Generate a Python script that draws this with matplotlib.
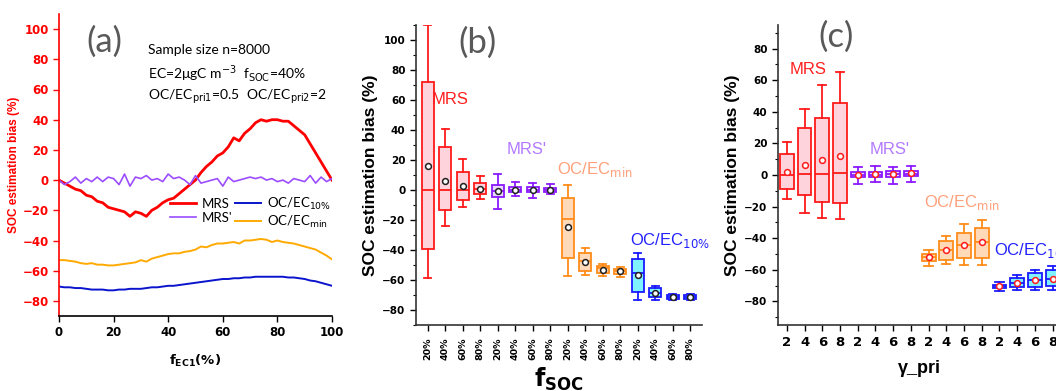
import matplotlib
matplotlib.use("Agg")
import matplotlib.pyplot as plt
import numpy as np

# ---------------- data ----------------
# panel (a)
f_ec1 = list(range(0, 101, 2))
mrs = [0, -2, -4, -6, -7, -10, -11, -14, -15, -18, -19, -20, -21, -24, -21, -22, -24, -20, -18, -15,
       -13, -12, -9, -6, -3, 0, 5, 9, 12, 16, 18, 22, 28, 26, 31, 34, 38, 40, 39, 40,
       40, 39, 39, 36, 33, 30, 24, 18, 12, 6, 0]
mrs_p = [0, -3, -1, 2, -2, 1, -1, 2, -1, 2, 1, -3, 4, -4, 2, 1, 3, 0, 1, -1,
         4, 1, 2, 0, -3, 3, -2, -1, 0, 1, -4, 2, -1, 0, 1, 2, 1, 2, 0, 1,
         -1, 0, -2, 1, 0, -1, 3, -2, 2, -1, 1]
oc_ec_min = [-53, -53, -53.5, -54, -55, -55.5, -55, -56, -56, -56.5, -56.5, -56, -55.5, -55, -54.5, -53, -54,
             -52, -51, -50, -49, -48.5, -48.5, -47.5, -47, -46, -44, -44.5, -43, -42, -42, -41.5, -41, -42,
             -40, -40, -39.5, -39, -39.5, -41, -40, -41, -41.5, -42, -43, -44, -45, -46, -48, -50, -52.5]
oc_ec_10 = [-70.5, -71, -71, -71.5, -71.5, -72, -72.5, -72.5, -72.5, -73, -73, -72.5, -72.5, -72, -72, -72,
            -71.5, -71, -71, -70.5, -70, -70, -69.5, -69, -68.5, -68, -67.5, -67, -66.5, -66, -65.5, -65.5,
            -65, -65, -64.5, -64.5, -64, -64, -64, -64, -64, -64, -64.5, -64.5, -65, -65.5, -66.5, -67, -68,
            -69, -70]

# panel (b): f_SOC boxes (MRS, MRS', OC/EC_min, OC/EC_10%) x (20,40,60,80 %)
b_ticklabels = ['20%', '40%', '60%', '80%'] * 4
b_whishi = [110, 41, 21, 9.5, 10.5, 5.5, 5, 4, 3.5, -38.5, -49, -51.5, -42, -64, -69, -69.5]
b_q3 = [72, 29, 12, 5, 3.3, 2, 1.8, 1.5, -5.3, -42, -50.5, -52.8, -46, -65.5, -69.8, -70.3]
b_med = [0, 0, 0, 1, -0.5, 0, 0, 0, -19.5, -47.5, -52.3, -54, -55, -68.5, -71, -71.3]
b_q1 = [-39.5, -13, -6.8, -2.7, -4.8, -1.6, -1.6, -1.1, -45, -54, -55.2, -55.7, -67.8, -71, -72.4, -72.6]
b_whislo = [-58.5, -24, -11, -6, -12.5, -4, -5, -2.8, -57.3, -56.8, -57.1, -57.8, -73, -73, -73.2, -73.2]
b_mean = [16, 6, 3, 1, -0.5, 0, 0, 0, -24.5, -47.8, -53, -54.2, -56.7, -68.5, -71, -71.5]

# panel (c): gamma_pri boxes
c_ticklabels = ['2', '4', '6', '8'] * 4
c_whishi = [21, 41.5, 56.8, 65.3, 5.3, 5.9, 4.8, 5.9, -47.8, -38.5, -31, -28.8, -68, -63.6, -60.2, -57.5]
c_q3 = [13, 29.5, 36.4, 45.5, 1.7, 1.9, 2.3, 2.5, -49.9, -41.7, -36.8, -33.3, -69.5, -65.3, -62.1, -60]
c_med = [0, 0.4, 0.6, 1, 0, 0.2, 0.6, 0.8, -52, -47.8, -44.6, -42.5, -70.5, -68.4, -66.3, -65.7]
c_q1 = [-9.1, -12.6, -16.8, -17.9, -1.5, -1.5, -1.3, -0.8, -54.5, -53.7, -52.6, -52.6, -71.6, -71, -71, -70.5]
c_whislo = [-15.2, -23.8, -27, -28, -5.9, -4.4, -5.5, -4.4, -57.5, -56.4, -56.8, -56.8, -73.3, -72.6, -72.6, -72.6]
c_mean = [1.7, 6.3, 9.5, 12.2, 0, 0.4, 0.6, 1, -52.2, -47.8, -44.6, -42.5, -70.5, -68.4, -66.7, -65.7]

group_edge = ['#FF1A1A', '#8C1AFF', '#FF8C1A', '#1A1AFF']
group_fill = ['#FFD3DC', '#E9D9FF', '#FFD9B8', '#80F2FF']

# ---------------- figure ----------------
W, H = 1056, 391
fig = plt.figure(figsize=(W / 100, H / 100), dpi=100)


def fr(l, t, r, b):
    return [l / W, 1 - b / H, (r - l) / W, (b - t) / H]


def ax_pt(px, py, l, t, r, b):
    return ((px - l) / (r - l), (b - py) / (b - t))


# ---------- panel (a) ----------
A = (59, 14, 332, 316)
axa = fig.add_axes(fr(*A))
axa.plot(f_ec1, mrs, color='#FF0000', lw=2.0, label='MRS')
axa.plot(f_ec1, mrs_p, color='#9B4DFF', lw=1.2, label="MRS'")
axa.plot(f_ec1, oc_ec_10, color='#0A14CC', lw=1.4, label='OC/EC$_{\\rm 10\\%}$')
axa.plot(f_ec1, oc_ec_min, color='#FFAA00', lw=1.4, label='OC/EC$_{\\rm min}$')
axa.set_xlim(0, 100)
axa.set_ylim(-90, 110)
axa.set_xticks(range(0, 101, 20))
axa.set_yticks(range(-80, 101, 20))
for s in ['top', 'right']:
    axa.spines[s].set_visible(False)
axa.spines['left'].set_color('#FF0000')
axa.spines['left'].set_linewidth(1.2)
axa.spines['bottom'].set_linewidth(1.2)
axa.tick_params(axis='y', colors='#FF0000', labelsize=8.5, length=4, width=1)
axa.tick_params(axis='x', labelsize=8.5, length=4, width=1)
for lab in axa.get_yticklabels() + axa.get_xticklabels():
    lab.set_fontweight('bold')
axa.set_ylabel('SOC estimation bias (%)', color='#FF0000', fontsize=8.5,
               fontweight='bold', family='Liberation Sans', labelpad=2)
axa.set_xlabel('f$_{\\mathbf{EC1}}$(%)', fontsize=9.5, fontweight='bold', labelpad=10)
axa.text(*ax_pt(104, 42, *A), '(a)', transform=axa.transAxes,
         fontsize=25, color='#595959', ha='center', va='center', family='Lato')
axa.text(*ax_pt(148, 50, *A), 'Sample size n=8000', transform=axa.transAxes,
         fontsize=10, family='Lato', va='center')
axa.text(*ax_pt(148, 73, *A), 'EC=2\u03bcgC m$^{-3}$  f$_{\\rm SOC}$=40%', transform=axa.transAxes,
         fontsize=10, family='Lato', va='center')
axa.text(*ax_pt(148, 97, *A), 'OC/EC$_{\\rm pri1}$=0.5  OC/EC$_{\\rm pri2}$=2', transform=axa.transAxes,
         fontsize=10, family='Lato', va='center')
leg = axa.legend(ncol=2, loc='upper left', bbox_to_anchor=ax_pt(170, 196, *A),
                 frameon=False, handlelength=2.0, handletextpad=0.4,
                 columnspacing=0.2, labelspacing=0.15, borderpad=0, borderaxespad=0,
                 prop={'family': 'Lato', 'size': 9.5})


# ---------- box panels ----------
def box_panel(ax, whishi, q3, med, q1, whislo, mean, ticklabels, mean_edge, width):
    n = len(med)
    for g in range(4):
        stats = []
        pos = []
        for i in range(g * 4, g * 4 + 4):
            stats.append(dict(med=med[i], q1=q1[i], q3=q3[i], whislo=whislo[i],
                              whishi=whishi[i], mean=mean[i], fliers=[]))
            pos.append(i + 1)
        ec = group_edge[g]
        ax.bxp(stats, positions=pos, widths=width, showmeans=True, patch_artist=True,
               showfliers=False,
               boxprops=dict(facecolor=group_fill[g], edgecolor=ec, linewidth=1.3),
               medianprops=dict(color=ec, linewidth=1.3),
               whiskerprops=dict(color=ec, linewidth=1.3),
               capprops=dict(color=ec, linewidth=1.3),
               capwidths=width * 0.6,
               meanprops=dict(marker='o', markerfacecolor='white', markeredgecolor=mean_edge,
                              markersize=4.2, markeredgewidth=1.1))
    ax.set_xticks(range(1, n + 1))
    ax.set_xticklabels(ticklabels)
    for s in ['top', 'right']:
        ax.spines[s].set_visible(False)
    ax.spines['left'].set_linewidth(1.2)
    ax.spines['bottom'].set_linewidth(1.2)
    ax.spines['left'].set_color('#333333')
    ax.spines['bottom'].set_color('#333333')
    ax.minorticks_on()
    ax.xaxis.set_minor_locator(matplotlib.ticker.NullLocator())
    ax.tick_params(which='major', length=4, width=1)
    ax.tick_params(which='minor', length=2.5, width=0.8)
    ax.set_ylabel('SOC estimation bias (%)', fontsize=12.5, fontweight='bold',
                  family='Liberation Sans', labelpad=3)


# panel (b)
B = (416, 25, 702, 325)
axb = fig.add_axes(fr(*B))
box_panel(axb, b_whishi, b_q3, b_med, b_q1, b_whislo, b_mean, b_ticklabels, '#202020', 0.7)
axb.set_xlim(0.33, 16.67)
axb.set_ylim(-90, 110)
axb.set_yticks(range(-80, 101, 20))
axb.yaxis.set_minor_locator(matplotlib.ticker.MultipleLocator(10))
axb.tick_params(axis='y', labelsize=7.5)
axb.tick_params(axis='x', labelsize=6.8, rotation=90, pad=5)
for lab in axb.get_yticklabels() + axb.get_xticklabels():
    lab.set_fontweight('bold')
axb.set_xlabel('f$_{\\mathbf{SOC}}$', fontsize=17, fontweight='bold', labelpad=4)
axb.text(*ax_pt(478, 43, *B), '(b)', transform=axb.transAxes, fontsize=25, color='#595959',
         ha='center', va='center', family='Lato')
axb.text(*ax_pt(450, 99, *B), 'MRS', transform=axb.transAxes, fontsize=12, color='#FF2020',
         ha='center', va='center', family='Liberation Sans')
axb.text(*ax_pt(527, 150, *B), "MRS'", transform=axb.transAxes, fontsize=12, color='#B27AFF',
         ha='center', va='center', family='Liberation Sans')
axb.text(*ax_pt(557, 170, *B), 'OC/EC$_{\\rm min}$', transform=axb.transAxes, fontsize=12,
         color='#FFA07A', ha='left', va='center', family='Liberation Sans')
axb.text(*ax_pt(630, 240, *B), 'OC/EC$_{\\rm 10\\%}$', transform=axb.transAxes, fontsize=12,
         color='#2222FF', ha='left', va='center', family='Liberation Sans')

# panel (c) -- extends past the right edge of the figure, as in the reference
C = (778, 25, 1061.5, 325)
axc = fig.add_axes(fr(*C))
box_panel(axc, c_whishi, c_q3, c_med, c_q1, c_whislo, c_mean, c_ticklabels, '#FF1A1A', 0.78)
axc.set_xlim(0.5, 16.5)
axc.set_ylim(-95, 95)
axc.set_yticks(range(-80, 81, 20))
axc.yaxis.set_minor_locator(matplotlib.ticker.MultipleLocator(10))
axc.tick_params(axis='y', labelsize=7.5)
axc.tick_params(axis='x', labelsize=9.5, pad=4)
for lab in axc.get_yticklabels() + axc.get_xticklabels():
    lab.set_fontweight('bold')
axc.set_xlabel('\u03b3_pri', fontsize=13, fontweight='bold', family='Liberation Sans', labelpad=8)
axc.text(*ax_pt(836, 37, *C), '(c)', transform=axc.transAxes, fontsize=25, color='#595959',
         ha='center', va='center', family='Lato')
axc.text(*ax_pt(808, 70, *C), 'MRS', transform=axc.transAxes, fontsize=12, color='#FF2020',
         ha='center', va='center', family='Liberation Sans')
axc.text(*ax_pt(890, 150, *C), "MRS'", transform=axc.transAxes, fontsize=12, color='#B27AFF',
         ha='center', va='center', family='Liberation Sans')
axc.text(*ax_pt(924, 203, *C), 'OC/EC$_{\\rm min}$', transform=axc.transAxes, fontsize=12,
         color='#FFA07A', ha='left', va='center', family='Liberation Sans')
axc.text(*ax_pt(994, 250, *C), 'OC/EC$_{\\rm 10\\%}$', transform=axc.transAxes, fontsize=12,
         color='#2222FF', ha='left', va='center', family='Liberation Sans')

fig.savefig('out.png', dpi=100)
